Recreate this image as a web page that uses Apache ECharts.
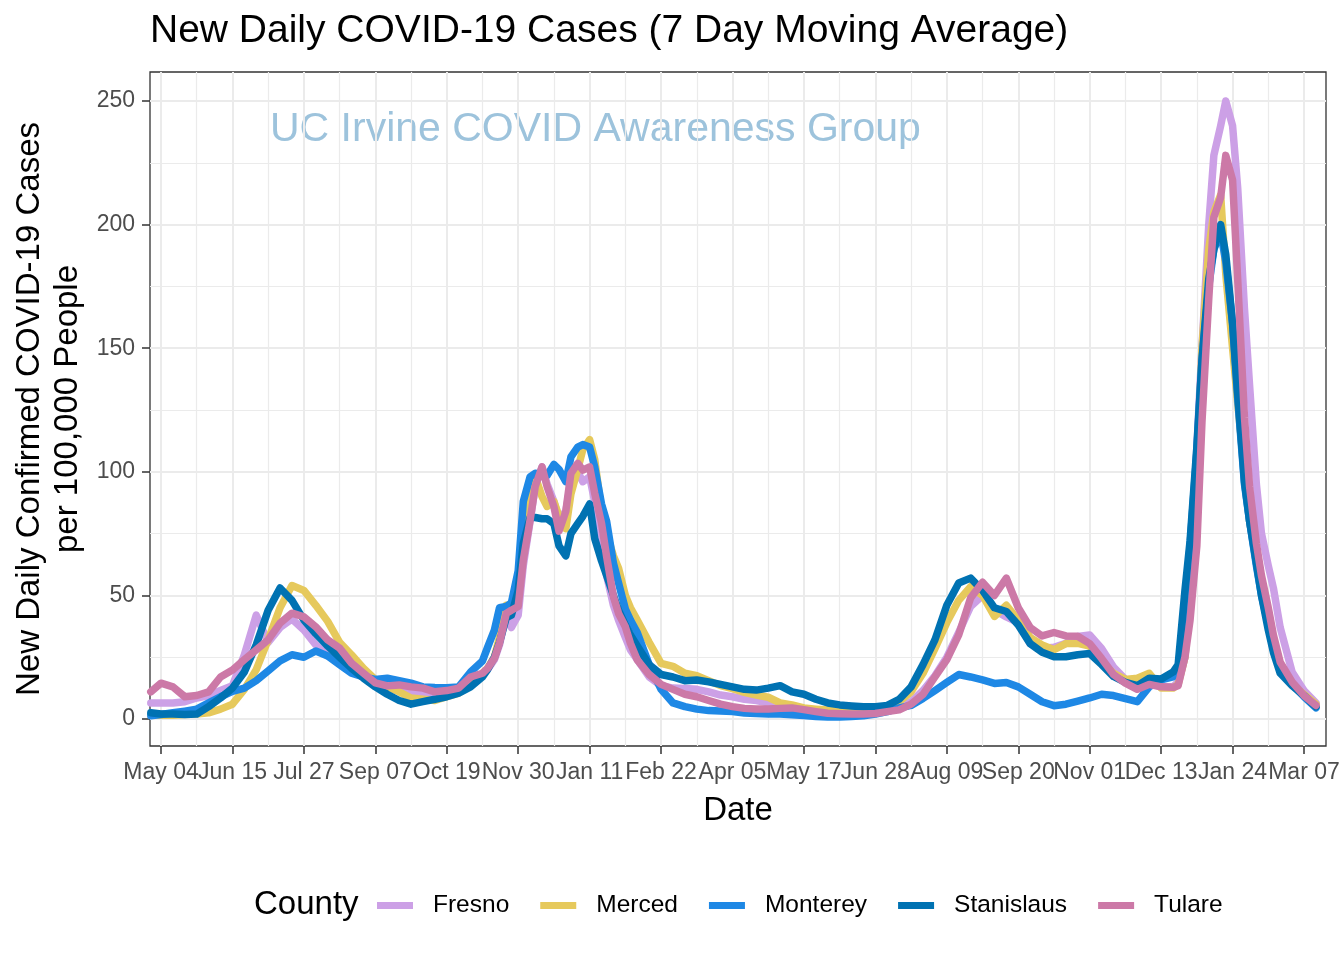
<!DOCTYPE html>
<html><head><meta charset="utf-8">
<script src="https://cdn.jsdelivr.net/npm/echarts/dist/echarts.min.js"></script>
<style>html,body{margin:0;padding:0;background:#fff}#c{width:1344px;height:960px}</style>
</head><body><div id="c"></div>
<script>
// day offsets from 2020-05-04
const days = [-6,0,7,14,21,28,35,42,49,56,63,70,77,84,91,98,105,112,119,126,133,140,147,154,161,168,175,182,189,
192,196,199,203,206,210,213,217,220,224,227,231,234,238,241,245,248,252,255,259,262,266,269,273,276,280,
287,294,
301,308,315,322,329,336,343,350,357,364,371,378,385,392,399,406,413,420,427,434,441,448,455,462,469,476,483,490,497,504,511,518,525,532,539,546,553,560,567,574,581,588,595,
598,602,605,609,612,616,619,623,626,630,633,637,640,644,647,651,654,658,665,672,679];

const fresno = [6.5,6.5,6.5,7,8.5,9.5,11.5,13.5,26,42,31,37,40.5,36,30,25.5,23,20,17,14,12.5,11.5,11,10.5,10.5,11,12,16,18,
20,24,30,42,37,42,62,80,94,102,95,88,81,84,96,100,96,98,88,70,58,46,40,33,28,24,
17,13.5,
12.5,12.3,12,11,9.7,9,8,7.5,6.5,5.5,4.5,4,3.6,3.3,3,3,3,3,3.5,4.5,7,11.5,17.5,25,35,45.5,50,44,41.3,39,30.5,28.5,29,30.6,33.4,34,28.5,21,16,14.5,14.5,13,13,
15,25,50,110,150,200,228,240,250,240,215,166,135,95,75,62,53,37,19,11.5,6.5];

const merced = [1.5,1.5,1.5,1.8,2,2.5,4,6,12,20,32,45,54,52,46,39.5,31,26,20.5,16,13,11,8.5,8,7.5,9,10.5,13.5,18.5,
20.5,25,33,46,44,50,66,90,98,90,86,88,82,77,91,101,109,113,105,84,75,66,61,50,45,40,
31,22.5,
21.3,18.5,17.5,15.5,13.5,12.3,10.8,9.7,8.8,6.5,5.7,4.5,4,3.6,3,3,3,3,3.5,7,11,18.5,28.5,39,48,53.5,50,41.5,46,40,33,30,28,30.5,30.6,29.5,23,18.5,16,16.5,18.5,12.5,12.5,
14,25,50,95,150,190,205,212,180,150,128,100,80,65,52,40,30,20,14,10,6];

const monterey = [1.3,1.8,2.5,3.2,4,6.5,9,11.2,12.5,15.5,19.5,23.5,26,25,27.5,25.5,22,18.5,17,16,16.5,15.5,14.5,13,12.7,12.6,13,19,23.5,
29,36,45,45.5,47,60,88,98,99.4,99,98.5,103,101,96,106,110,111,110,102,87,80,63,55,44.5,40,35,
22,12,
6.5,5,4,3.4,3.2,3,2.4,2.2,2,2,1.7,1.4,1,0.8,0.8,1,1.3,2,3,4.5,5.5,8.3,11.5,14.8,18,17,15.8,14.4,14.8,13,10,7,5.4,6,7.2,8.5,10,9.5,8.2,7,13,15.8,17,
20,45,70,108,145,175,190,197,185,160,130,95,80,62,50,38,28,20,14,9,4.5];

const stanislaus = [2.5,2,2,1.8,2,5,8.5,12.5,19,30,44,53,48,40,34.5,29.5,25,20.5,16.5,13,10,7.5,6,7,8,9,10.5,13,17,
20,25,31,41,42,52,71,81.5,81.5,81,81,79,70,66,75,79,82,87,73,64,58,50,44,38,34,29.5,
22,18,
17,15.5,15.8,15,14,13,12,11.7,12.5,13.5,11,10,8,6.5,5.7,5.3,5,5,5.5,8,13,22,32,46,55,57,52,45,43.5,38,30.5,27,25.2,25.2,26,26.5,22,17.2,14.8,13.5,16.5,16.2,19,
22,52,72,110,145,178,190,200,188,160,132,96,80,63,50,36,27,18.5,13.5,9.5,5];

const tulare = [11,14.5,13,9,9.5,11,17,19.8,24,28,32,38.8,42.8,41.3,37.3,32,28.7,22.6,18.6,14.6,13.4,13.8,13,12.5,11,11.5,12.5,17,18.5,
20.5,24.5,30.6,42.7,44,45.5,64.3,80.5,94,102,94,85.9,76,84,99.4,103.4,100.7,102,91.3,79.2,65.7,49.5,42.7,37.3,30.6,23.9,
18,14,
12,10,9,7.5,6,5,4.3,4,4,4.3,4.5,3.8,3,2.3,2.1,2,2,2.2,3,3.7,6,10,17,24,34,49,55.3,50,57,45,37,33.6,35,33.6,33.5,30.5,24.5,18,14.5,12,14,13,12.8,
13.5,25,40,70,120,170,203,211,228,218,178,122,94,71,58,45,34,23,15,9.5,5.5];

const countyNames = ['Fresno','Merced','Monterey','Stanislaus','Tulare'];
const countyValues = [fresno, merced, monterey, stanislaus, tulare];
const countyColors = ['#CCA0E6','#E6C95C','#1E88E5','#0072B2','#CC79A7'];

// tick labels every 42 days starting at day 0 (May 04 2020)
const xTickLabels = ['May 04','Jun 15','Jul 27','Sep 07','Oct 19','Nov 30','Jan 11','Feb 22','Apr 05','May 17','Jun 28','Aug 09','Sep 20','Nov 01','Dec 13','Jan 24','Mar 07'];
const xTickStep = 42;
const yTickStep = 50;

const FONT = '"Liberation Sans", Arimo, Arial, Helvetica, sans-serif';
const chart = echarts.init(document.getElementById('c'), null, {renderer:'canvas'});

const pxPerDay = 1143 / 672;
const gridLine = {color:'#EBEBEB', width:2};
const minorLine = {color:'#EBEBEB', width:1.2};
const tickStyle = {color:'#333333', width:1.5};
const labelBase = {show:true, fontSize:23, color:'#4D4D4D', margin:15, fontFamily:FONT, hideOverlap:false, showMinLabel:true, showMaxLabel:true};

function labelAxis(gridIndex, offsetDays, span){
  return {gridIndex:gridIndex, type:'value', min:0, max:span, interval:xTickStep*2,
    axisLine:{show:false}, axisTick:{show:false}, splitLine:{show:false},
    axisLabel:Object.assign({}, labelBase, {formatter:function(v){
      const i = Math.round((v + offsetDays)/xTickStep); return xTickLabels[i] || ''; }})};
}

const option = {
  animation:false,
  backgroundColor:'#ffffff',
  grid:[
    {left:150, top:72, width:1176, height:674, show:true, borderColor:'#333333', borderWidth:1.3, backgroundColor:'transparent', containLabel:false, outerBoundsMode:'none'},
    {left:161, top:72, width:1143, height:674, show:false, containLabel:false, outerBoundsMode:'none'},
    {left:150, top:101, width:1176, height:618, show:false, containLabel:false, outerBoundsMode:'none'},
    {left:161, top:72, width:1143, height:674, show:false, containLabel:false, outerBoundsMode:'none'},
    {left:161 + xTickStep*pxPerDay, top:72, width:(672 - 2*xTickStep)*pxPerDay, height:674, show:false, containLabel:false, outerBoundsMode:'none'}
  ],
  xAxis:[
    {gridIndex:0, type:'value', min:-6.467, max:684.93, show:false},
    {gridIndex:1, type:'value', min:0, max:672, interval:xTickStep,
      axisLine:{show:false},
      axisTick:{show:true, length:8, lineStyle:tickStyle},
      axisLabel:{show:false},
      splitLine:{show:true, lineStyle:gridLine},
      minorTick:{show:false, splitNumber:2},
      minorSplitLine:{show:true, lineStyle:minorLine}},
    {gridIndex:2, type:'value', min:0, max:1, show:false},
    labelAxis(3, 0, 672),
    labelAxis(4, xTickStep, 672 - 2*xTickStep)
  ],
  yAxis:[
    {gridIndex:0, type:'value', min:-10.92, max:261.73, show:false},
    {gridIndex:1, type:'value', min:0, max:1, show:false},
    {gridIndex:2, type:'value', min:0, max:250, interval:yTickStep,
      axisLine:{show:false},
      axisTick:{show:true, length:8, lineStyle:tickStyle},
      axisLabel:{show:true, fontSize:23, color:'#4D4D4D', margin:15, fontFamily:FONT, hideOverlap:false},
      splitLine:{show:true, lineStyle:gridLine},
      minorTick:{show:false, splitNumber:2},
      minorSplitLine:{show:true, lineStyle:minorLine}},
    {gridIndex:3, type:'value', min:0, max:1, show:false},
    {gridIndex:4, type:'value', min:0, max:1, show:false}
  ],
  legend:{
    show:true, left:377, top:893, padding:0, orient:'horizontal',
    icon:'rect', itemWidth:36, itemHeight:7, itemGap:31,
    textStyle:{fontSize:24.5, color:'#000', fontFamily:FONT, padding:[0,0,0,15]},
    data:countyNames
  },
  graphic:[
    {type:'text', x:150, y:31, z:10, style:{text:'New Daily COVID-19 Cases (7 Day Moving Average)', fill:'#000', font:'39px '+FONT, textAlign:'left', textVerticalAlign:'middle'}},
    {type:'text', x:270, y:130, z:0, style:{text:'UC Irvine COVID Awareness Group', fill:'#9DC3DC', font:'41px '+FONT, textAlign:'left', textVerticalAlign:'middle'}},
    {type:'text', x:49, y:409, rotation:Math.PI/2, z:10, style:{text:'New Daily Confirmed COVID-19 Cases\nper 100,000 People', fill:'#000', font:'33px '+FONT, lineHeight:38, textAlign:'center', textVerticalAlign:'middle'}},
    {type:'text', x:738, y:811, z:10, style:{text:'Date', fill:'#000', font:'33px '+FONT, textAlign:'center', textVerticalAlign:'middle'}},
    {type:'text', x:254, y:905, z:10, style:{text:'County', fill:'#000', font:'33px '+FONT, textAlign:'left', textVerticalAlign:'middle'}}
  ],
  series: countyNames.map(function(name, k){
    return {
      name:name, type:'line', xAxisIndex:0, yAxisIndex:0,
      data: days.map(function(d,i){ return [d, countyValues[k][i]]; }),
      showSymbol:false, symbol:'none', smooth:false, clip:true, z:3,
      lineStyle:{width:7.5, color:countyColors[k], cap:'round', join:'round'},
      itemStyle:{color:countyColors[k]},
      emphasis:{disabled:true}
    };
  })
};
chart.setOption(option);
</script>
</body></html>
